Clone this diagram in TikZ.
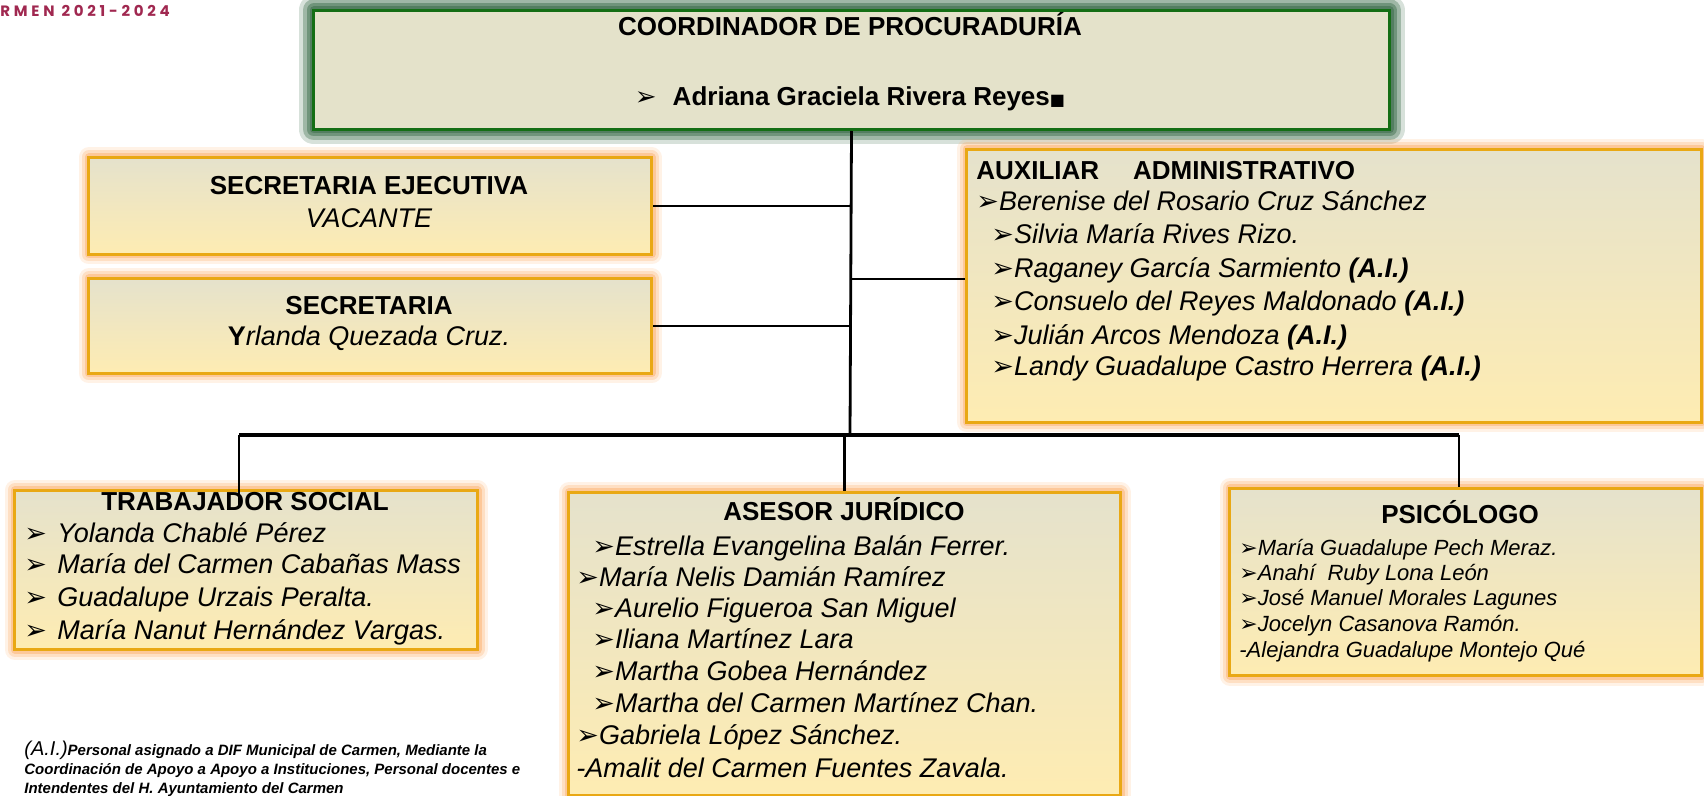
\documentclass[tikz,border=0pt]{standalone}
\usepackage{fontspec}
\setmainfont{Liberation Sans}
\newfontfamily\symfont{DejaVu Sans}
\newfontfamily\headfont[LetterSpace=25]{Poppins}
\usetikzlibrary{calc}

\definecolor{boxtop}{RGB}{229,226,204}
\definecolor{boxbot}{RGB}{254,236,178}
\definecolor{boxgold}{RGB}{233,168,20}
\definecolor{glow}{RGB}{252,165,90}
\definecolor{topfill}{RGB}{228,226,202}
\definecolor{topline}{RGB}{20,110,20}
\definecolor{topglow}{RGB}{55,105,70}
\definecolor{maroon}{RGB}{160,40,80}

\newcommand{\bul}{{\symfont ➢}}
\newcommand{\ai}{ \textbf{(A.I.)}}

\tikzset{
  glowbox/.style={draw=boxgold, line width=1.5pt, top color=boxtop, bottom color=boxbot,
    anchor=north west, inner sep=0pt,
    preaction={draw=glow, line width=10pt, opacity=.15, line join=round},
    preaction={draw=glow, line width=7pt, opacity=.25, line join=round},
    preaction={draw=glow, line width=4pt, opacity=.4, line join=round}},
  headbox/.style={draw=topline, line width=1.5pt, fill=topfill,
    anchor=north west, inner sep=0pt,
    preaction={draw=topglow, line width=15pt, opacity=.2, line join=round},
    preaction={draw=topglow, line width=11pt, opacity=.35, line join=round},
    preaction={draw=topglow, line width=7pt, opacity=.45, line join=round},
    preaction={draw=topglow, line width=4pt, opacity=.5, line join=round}},
  title/.style={font=\fontsize{13}{15}\selectfont\bfseries, inner sep=0pt, anchor=mid},
  person/.style={font=\fontsize{13.5}{16}\selectfont\itshape, inner sep=0pt, anchor=mid west},
  smallperson/.style={font=\fontsize{11}{13}\selectfont\itshape, inner sep=0pt, anchor=mid west},
  note/.style={font=\fontsize{7.5}{9}\selectfont\bfseries\itshape, inner sep=0pt, anchor=mid west},
  conn/.style={line width=1.4pt, black}
}

\begin{document}
\begin{tikzpicture}[x=0.5pt,y=-0.5pt]
  \useasboundingbox (0,0) rectangle (1704,796);
  % Boxes
  \node[headbox, minimum width=538pt, minimum height=59.5pt] (coord) at (312,9) {};
  \node[glowbox, minimum width=281.5pt, minimum height=48.5pt] (sece) at (87,156) {};
  \node[glowbox, minimum width=281.5pt, minimum height=47.5pt] (secr) at (87,277) {};
  \node[glowbox, minimum width=367.5pt, minimum height=136.5pt] (aux) at (965,148) {};
  \node[glowbox, minimum width=231.5pt, minimum height=79.5pt] (trab) at (13,489) {};
  \node[glowbox, minimum width=276pt, minimum height=151.5pt] (ases) at (567,491) {};
  \node[glowbox, minimum width=236pt, minimum height=93.5pt] (psic) at (1228,487) {};

  % Connectors
  \coordinate (busc) at (850,435);
  \coordinate (busl) at (239,435);
  \coordinate (busr) at (1459,435);
  \draw[conn] (coord.south) -- (busc);
  \draw[conn] (sece.east) -- (sece.east -| busc);
  \draw[conn] (secr.east) -- (secr.east -| busc);
  \draw[conn] ([yshift=3.5pt]aux.west) -- ([yshift=3.5pt]aux.west -| busc);
  \draw[conn, line width=2.2pt] (busl) -- (busr);
  \draw[conn] (busl) -- ([yshift=-8pt]busl |- trab.north);
  \draw[conn] (busc -| ases.north) -- (ases.north);
  \draw[conn] (busr) -- (busr |- psic.north);

  % Header
  \node[anchor=mid west, inner sep=0pt, text=maroon, font=\headfont\bfseries\fontsize{7.5}{9}\selectfont] (hdr) at (0,11) {RMEN 2021-2024};

  % Coordinador
  \node[title] (coordt) at (850,30) {COORDINADOR DE PROCURADURÍA};
  \node[title] (coordn) at (850,100) {\bul\hspace{8pt}Adriana Graciela Rivera Reyes{\symfont\fontsize{8}{8}\selectfont■}};

  % Secretarias
  \node[title] (secet) at (369,189) {SECRETARIA EJECUTIVA};
  \node[person, anchor=mid] (secen) at (369,222) {VACANTE};
  \node[title] (secrt) at (369,309) {SECRETARIA};
  \node[person, anchor=mid] (secrn) at (369,340) {{\upshape\bfseries Y}rlanda Quezada Cruz.};

  % Auxiliar administrativo
  \node[title, anchor=mid west] (auxt) at (976,174) {AUXILIAR\hspace{17pt}ADMINISTRATIVO};
  \foreach \xx/\yy/\who [count=\i] in {
    976/205/Berenise del Rosario Cruz Sánchez,
    991/238/Silvia María Rives Rizo.,
    991/272/Raganey García Sarmiento\ai,
    991/305/Consuelo del Reyes Maldonado\ai,
    991/339/Julián Arcos Mendoza\ai,
    991/370/Landy Guadalupe Castro Herrera\ai}
    \node[person] (aux\i) at (\xx,\yy) {\bul\who};

  % Trabajador social
  \node[title] (trabt) at (245,505) {TRABAJADOR SOCIAL};
  \foreach \yy/\who [count=\i] in {
    537/Yolanda Chablé Pérez,
    568/María del Carmen Cabañas Mass,
    601/Guadalupe Urzais Peralta.,
    634/María Nanut Hernández Vargas.}
  {
    \node[person] (trabb\i) at (24,\yy) {\bul};
    \node[person] (trab\i) at (57,\yy) {\who};
  }

  % Asesor juridico
  \node[title] (asest) at (844,515) {ASESOR JURÍDICO};
  \foreach \xx/\yy/\who [count=\i] in {
    592/550/{\bul Estrella Evangelina Balán Ferrer.},
    576/581/{\bul María Nelis Damián Ramírez},
    592/612/{\bul Aurelio Figueroa San Miguel},
    592/643/{\bul Iliana Martínez Lara},
    592/675/{\bul Martha Gobea Hernández},
    592/707/{\bul Martha del Carmen Martínez Chan.},
    576/739/{\bul Gabriela López Sánchez.},
    576/772/{-Amalit del Carmen Fuentes Zavala.}}
    \node[person] (ases\i) at (\xx,\yy) {\who};

  % Psicologo
  \node[title] (psict) at (1460,518) {PSICÓLOGO};
  \foreach \yy/\who [count=\i] in {
    550/{\bul María Guadalupe Pech Meraz.},
    575/{\bul Anahí\ \ Ruby Lona León},
    600/{\bul José Manuel Morales Lagunes},
    626/{\bul Jocelyn Casanova Ramón.},
    652/{-Alejandra Guadalupe Montejo Qué}}
    \node[smallperson] (psic\i) at (1239,\yy) {\who};

  % Nota
  \node[note] (note1) at (24,750) {{\mdseries\fontsize{10}{12}\selectfont(A.I.)}Personal asignado a DIF Municipal de Carmen, Mediante la};
  \node[note] (note2) at (24,769) {Coordinación de Apoyo a Apoyo a Instituciones, Personal docentes e};
  \node[note] (note3) at (24,788) {Intendentes del H. Ayuntamiento del Carmen};
\end{tikzpicture}
\end{document}
